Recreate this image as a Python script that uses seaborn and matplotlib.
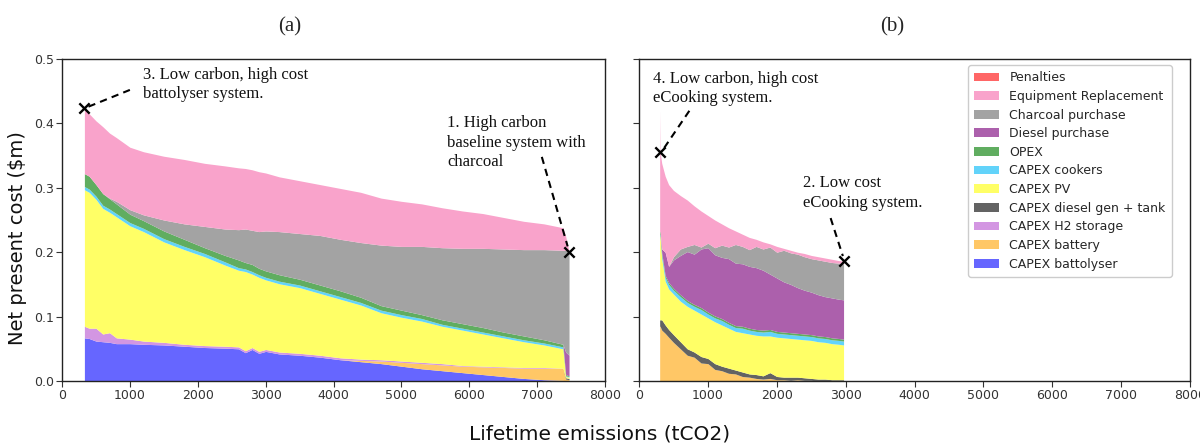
import numpy as np
import pandas as pd
import matplotlib
matplotlib.use("Agg")
import matplotlib.pyplot as plt
import seaborn as sns

# ---------------- data ----------------
labels = ["CAPEX battolyser", "CAPEX battery", "CAPEX H2 storage", "CAPEX diesel gen + tank",
          "CAPEX PV", "CAPEX cookers", "OPEX", "Diesel purchase", "Charcoal purchase",
          "Equipment Replacement", "Penalties"]
colors = ["#6666FF", "#FFC766", "#D396E2", "#636363", "#FFFF66", "#62D3FA",
          "#60AD60", "#AC60AC", "#A3A3A3", "#F9A3CB", "#FF6666"]

# panel (a): battolyser system
emis_a = [330, 400, 500, 600, 700, 800, 1000, 1200, 1500, 1800, 2100, 2400, 2600, 2700, 2800, 2900,
          3000, 3200, 3500, 3800, 4100, 4400, 4700, 5000, 5300, 5600, 5900, 6200, 6500, 6800, 7100,
          7380, 7420, 7470]
battolyser_a = [0.067, 0.066, 0.062, 0.061, 0.060, 0.058, 0.058, 0.057, 0.056, 0.054, 0.052, 0.051,
                0.050, 0.044, 0.049, 0.043, 0.046, 0.042, 0.040, 0.037, 0.033, 0.030, 0.027, 0.023,
                0.019, 0.016, 0.013, 0.010, 0.007, 0.004, 0.002, 0.001, 0.000, 0.000]
battery_a = [0.0, 0.0, 0.0, 0.0, 0.0, 0.0, 0.0, 0.0, 0.0, 0.0, 0.0, 0.0, 0.0, 0.0, 0.0, 0.0, 0.0,
             0.0, 0.0, 0.0, 0.0, 0.002, 0.004, 0.006, 0.008, 0.009, 0.010, 0.012, 0.014, 0.016,
             0.018, 0.019, 0.003, 0.002]
h2_a = [0.018, 0.016, 0.020, 0.012, 0.015, 0.009, 0.007, 0.005, 0.004, 0.003, 0.003, 0.003, 0.003,
        0.003, 0.003, 0.003, 0.003, 0.003, 0.003, 0.003, 0.003, 0.002, 0.002, 0.002, 0.002, 0.002,
        0.001, 0.001, 0.001, 0.001, 0.001, 0.000, 0.000, 0.000]
dieselgen_a = [0.0, 0.0, 0.0, 0.0, 0.0, 0.0, 0.0, 0.0, 0.0, 0.0, 0.0, 0.0, 0.0, 0.0, 0.0, 0.0, 0.0,
               0.0, 0.0, 0.0, 0.0, 0.0, 0.0, 0.0, 0.0, 0.0, 0.0, 0.0, 0.0, 0.0, 0.0, 0.0, 0.002, 0.002]
pv_a = [0.212, 0.211, 0.200, 0.195, 0.187, 0.188, 0.176, 0.170, 0.156, 0.147, 0.138, 0.126, 0.119,
        0.123, 0.114, 0.115, 0.108, 0.106, 0.102, 0.096, 0.091, 0.084, 0.073, 0.068, 0.064, 0.058,
        0.055, 0.050, 0.045, 0.040, 0.035, 0.030, 0.002, 0.002]
cookers_a = [0.005, 0.005, 0.005, 0.005, 0.005, 0.005, 0.005, 0.005, 0.005, 0.005, 0.005, 0.005,
             0.004, 0.004, 0.004, 0.004, 0.004, 0.004, 0.004, 0.004, 0.004, 0.004, 0.004, 0.004,
             0.004, 0.003, 0.003, 0.003, 0.003, 0.003, 0.003, 0.003, 0.001, 0.001]
opex_a = [0.020, 0.020, 0.018, 0.018, 0.016, 0.015, 0.013, 0.012, 0.012, 0.011, 0.009, 0.010, 0.012,
          0.010, 0.011, 0.010, 0.010, 0.010, 0.009, 0.009, 0.009, 0.008, 0.007, 0.007, 0.006, 0.007,
          0.007, 0.007, 0.006, 0.006, 0.005, 0.004, 0.002, 0.001]
diesel_a = [0.0, 0.0, 0.0, 0.0, 0.0, 0.0, 0.0, 0.0, 0.0, 0.0, 0.0, 0.0, 0.0, 0.0, 0.0, 0.0, 0.0,
            0.0, 0.0, 0.0, 0.0, 0.0, 0.0, 0.0, 0.0, 0.0, 0.0, 0.0, 0.0, 0.0, 0.0, 0.0, 0.035, 0.032]
charcoal_a = [0.0, 0.0, 0.0, 0.0, 0.001, 0.004, 0.007, 0.009, 0.017, 0.024, 0.033, 0.041, 0.047,
              0.052, 0.053, 0.057, 0.062, 0.067, 0.071, 0.077, 0.080, 0.085, 0.094, 0.099, 0.106,
              0.112, 0.117, 0.123, 0.129, 0.134, 0.140, 0.146, 0.158, 0.161]
replacement_a = [0.102, 0.097, 0.099, 0.104, 0.101, 0.099, 0.097, 0.098, 0.099, 0.100, 0.098, 0.098,
                 0.096, 0.094, 0.094, 0.093, 0.090, 0.085, 0.082, 0.079, 0.079, 0.078, 0.073, 0.070,
                 0.066, 0.062, 0.058, 0.054, 0.049, 0.044, 0.040, 0.035, 0.022, 0.000]
penalties_a = [0.0, 0.0, 0.0, 0.0, 0.0, 0.0, 0.0, 0.0, 0.0, 0.0, 0.0, 0.0, 0.0, 0.0, 0.0, 0.0, 0.0,
               0.0, 0.0, 0.0, 0.0, 0.0, 0.0, 0.0, 0.0, 0.0, 0.0, 0.0, 0.0, 0.0, 0.0, 0.0, 0.0, 0.0]

# panel (b): eCooking system
emis_b = [300, 306, 330, 380, 430, 500, 600, 700, 800, 900, 1000, 1100, 1200, 1300, 1400, 1500,
          1600, 1700, 1800, 1900, 2000, 2100, 2200, 2300, 2400, 2500, 2600, 2700, 2800, 2900, 2970]
battolyser_b = [0.0, 0.0, 0.0, 0.0, 0.0, 0.0, 0.0, 0.0, 0.0, 0.0, 0.0, 0.0, 0.0, 0.0, 0.0, 0.0,
                0.0, 0.0, 0.0, 0.0, 0.0, 0.0, 0.0, 0.0, 0.0, 0.0, 0.0, 0.0, 0.0, 0.0, 0.0]
battery_b = [0.085, 0.085, 0.079, 0.074, 0.068, 0.060, 0.050, 0.040, 0.037, 0.028, 0.027, 0.018,
             0.016, 0.012, 0.011, 0.007, 0.006, 0.004, 0.003, 0.004, 0.002, 0.002, 0.001, 0.002,
             0.001, 0.001, 0.000, 0.000, 0.000, 0.000, 0.000]
h2_b = [0.0, 0.0, 0.0, 0.0, 0.0, 0.0, 0.0, 0.0, 0.0, 0.0, 0.0, 0.0, 0.0, 0.0, 0.0, 0.0,
        0.0, 0.0, 0.0, 0.0, 0.0, 0.0, 0.0, 0.0, 0.0, 0.0, 0.0, 0.0, 0.0, 0.0, 0.0]
dieselgen_b = [0.010, 0.010, 0.016, 0.013, 0.012, 0.012, 0.011, 0.010, 0.008, 0.010, 0.008, 0.009,
               0.007, 0.008, 0.006, 0.007, 0.005, 0.006, 0.005, 0.009, 0.005, 0.004, 0.005, 0.004,
               0.004, 0.003, 0.003, 0.003, 0.002, 0.002, 0.002]
pv_b = [0.130, 0.130, 0.095, 0.068, 0.063, 0.063, 0.063, 0.066, 0.065, 0.066, 0.063, 0.065, 0.064,
        0.062, 0.060, 0.061, 0.062, 0.061, 0.062, 0.057, 0.061, 0.061, 0.060, 0.059, 0.059, 0.059,
        0.058, 0.057, 0.056, 0.055, 0.054]
cookers_b = [0.002, 0.002, 0.005, 0.006, 0.007, 0.006, 0.007, 0.006, 0.006, 0.007, 0.006, 0.006,
             0.007, 0.006, 0.006, 0.007, 0.006, 0.006, 0.006, 0.007, 0.006, 0.006, 0.006, 0.006,
             0.006, 0.006, 0.006, 0.006, 0.006, 0.006, 0.006]
opex_b = [0.005, 0.005, 0.004, 0.003, 0.003, 0.003, 0.003, 0.003, 0.003, 0.003, 0.003, 0.003,
          0.003, 0.003, 0.003, 0.003, 0.003, 0.003, 0.003, 0.003, 0.003, 0.003, 0.003, 0.003,
          0.003, 0.003, 0.003, 0.003, 0.003, 0.003, 0.003]
diesel_b = [0.0, 0.0, 0.006, 0.036, 0.025, 0.044, 0.061, 0.076, 0.078, 0.091, 0.100, 0.095, 0.095,
            0.099, 0.097, 0.097, 0.096, 0.096, 0.093, 0.086, 0.083, 0.078, 0.075, 0.071, 0.068,
            0.066, 0.064, 0.062, 0.062, 0.061, 0.061]
charcoal_b = [0.0, 0.0, 0.0, 0.0, 0.0, 0.005, 0.010, 0.008, 0.015, 0.003, 0.007, 0.011, 0.019,
              0.018, 0.029, 0.027, 0.026, 0.033, 0.033, 0.042, 0.040, 0.049, 0.049, 0.052, 0.052,
              0.052, 0.054, 0.055, 0.055, 0.056, 0.056]
replacement_b = [0.188, 0.124, 0.133, 0.118, 0.127, 0.103, 0.083, 0.072, 0.060, 0.056, 0.043,
                 0.043, 0.033, 0.030, 0.021, 0.019, 0.019, 0.011, 0.011, 0.005, 0.009, 0.003,
                 0.004, 0.003, 0.005, 0.005, 0.005, 0.005, 0.005, 0.004, 0.004]
penalties_b = [0.0, 0.0, 0.0, 0.0, 0.0, 0.0, 0.0, 0.0, 0.0, 0.0, 0.0, 0.0, 0.0, 0.0, 0.0, 0.0,
               0.0, 0.0, 0.0, 0.0, 0.0, 0.0, 0.0, 0.0, 0.0, 0.0, 0.0, 0.0, 0.0, 0.0, 0.0]

xticks = [0, 1000, 2000, 3000, 4000, 5000, 6000, 7000, 8000]
yticks = [0.0, 0.1, 0.2, 0.3, 0.4, 0.5]

series_a = [battolyser_a, battery_a, h2_a, dieselgen_a, pv_a, cookers_a, opex_a, diesel_a,
            charcoal_a, replacement_a, penalties_a]
series_b = [battolyser_b, battery_b, h2_b, dieselgen_b, pv_b, cookers_b, opex_b, diesel_b,
            charcoal_b, replacement_b, penalties_b]

# ---------------- style ----------------
sns.set_theme(style="ticks")
plt.rcParams["font.family"] = ["DejaVu Sans"]
SERIF = "Liberation Serif"

fig = plt.figure(figsize=(12, 4.45), dpi=100)
axA = fig.add_axes([62 / 1200, 64 / 445, 543 / 1200, 322 / 445])
axB = fig.add_axes([639 / 1200, 64 / 445, 551 / 1200, 322 / 445])

for ax, x, ser in [(axA, emis_a, series_a), (axB, emis_b, series_b)]:
    ax.stackplot(x, *[np.asarray(s) for s in ser], colors=colors, labels=labels,
                 linewidth=0, antialiased=True)
    ax.set_xlim(0, 8000)
    ax.set_ylim(0, 0.5)
    ax.set_xticks(xticks)
    ax.set_yticks(yticks)
    ax.tick_params(labelsize=9, length=4, width=0.8, colors="#333333", pad=2)
    for sp in ax.spines.values():
        sp.set_visible(True)
        sp.set_color("#222222")
        sp.set_linewidth(1.0)

axA.xaxis.set_major_formatter(matplotlib.ticker.FuncFormatter(lambda v, p: f"{int(v)}"))
axB.xaxis.set_major_formatter(matplotlib.ticker.FuncFormatter(lambda v, p: f"{int(v)}"))
axA.yaxis.set_major_formatter(matplotlib.ticker.FuncFormatter(lambda v, p: f"{v:.1f}"))
axB.set_yticklabels([])

tot_a = np.sum(np.asarray(series_a), axis=0)
tot_b = np.sum(np.asarray(series_b), axis=0)

# highlighted systems
mk = pd.DataFrame({"x": [emis_a[0], emis_a[-1]], "y": [tot_a[0], tot_a[-1]]})
sns.scatterplot(data=mk, x="x", y="y", marker="x", color="black", s=55, linewidth=1.7,
                ax=axA, zorder=6, legend=False)
mk_b = pd.DataFrame({"x": [emis_b[1], emis_b[-1]], "y": [tot_b[1], tot_b[-1]]})
sns.scatterplot(data=mk_b, x="x", y="y", marker="x", color="black", s=55, linewidth=1.7,
                ax=axB, zorder=6, legend=False)
for ax in (axA, axB):
    ax.set_xlabel("")
    ax.set_ylabel("")

dash = dict(color="black", linestyle=(0, (3.5, 2.5)), linewidth=1.5, zorder=5)
axA.plot([emis_a[0] + 60, 1000], [tot_a[0] + 0.002, 0.452], **dash)
axA.plot([7069, emis_a[-1] - 20], [0.348, tot_a[-1] + 0.008], **dash)
axB.plot([emis_b[1] + 60, 740], [tot_b[1] + 0.006, 0.421], **dash)
axB.plot([2782, emis_b[-1] - 10], [0.253, tot_b[-1] + 0.008], **dash)

tkw = dict(family=SERIF, fontsize=12, va="top", ha="left", linespacing=1.3, color="#111111")
axA.text(1190, 0.488, "3. Low carbon, high cost\nbattolyser system.", **tkw)
axA.text(5677, 0.413, "1. High carbon\nbaseline system with\ncharcoal", **tkw)
axB.text(203, 0.482, "4. Low carbon, high cost\neCooking system.", **tkw)
axB.text(2380, 0.320, "2. Low cost\neCooking system.", **tkw)

# legend (top layer first)
h, l = axB.get_legend_handles_labels()
axB.legend(h[::-1], l[::-1], loc="upper right", bbox_to_anchor=(0.967, 0.981), fontsize=9,
           frameon=True, framealpha=1, edgecolor="#cccccc", handlelength=2.0,
           labelspacing=0.45, borderpad=0.5, borderaxespad=0)

fig.text(290 / 1200, 1 - 27 / 445, "(a)", family=SERIF, fontsize=15, ha="center", va="center")
fig.text(892 / 1200, 1 - 27 / 445, "(b)", family=SERIF, fontsize=15, ha="center", va="center")
fig.text(600 / 1200, 1 - 434 / 445, "Lifetime emissions (tCO2)", fontsize=14.5, ha="center",
         va="center", color="#111111")
fig.text(18 / 1200, 1 - 238 / 445, "Net present cost ($m)", fontsize=14, rotation=90,
         ha="center", va="center", color="#111111")

fig.savefig("out.png", dpi=100, facecolor="white")
